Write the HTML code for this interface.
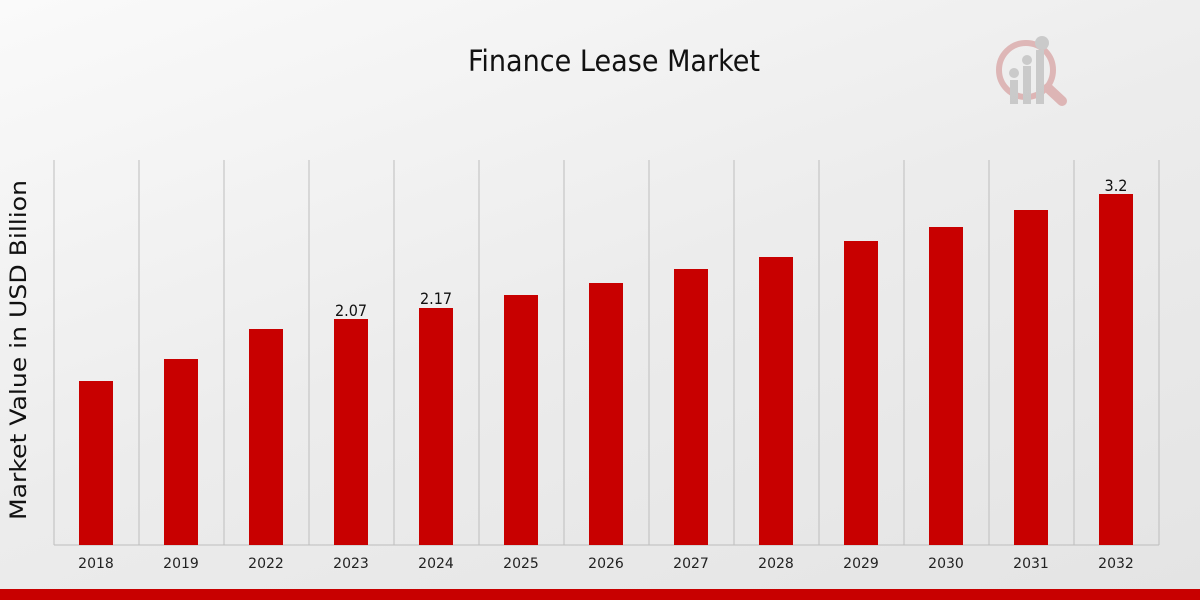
<!DOCTYPE html>
<html><head><meta charset="utf-8"><style>
html,body{margin:0;padding:0}
body{width:1200px;height:600px;overflow:hidden;background:linear-gradient(160deg,#fafafa 0%,#ececec 50%,#e4e4e4 100%);font-family:"DejaVu Sans",sans-serif;position:relative}
</style></head><body>
<svg width="1200" height="600" style="position:absolute;left:0;top:0" font-family="DejaVu Sans, sans-serif">
<text x="614" y="71" text-anchor="middle" font-family="DejaVu Sans Condensed, DejaVu Sans, sans-serif" font-stretch="condensed" font-size="29" fill="#111" textLength="292" lengthAdjust="spacingAndGlyphs">Finance Lease Market</text>
<g stroke="#bdbdbd" stroke-width="1">
<line x1="54" y1="160" x2="54" y2="545"/><line x1="139" y1="160" x2="139" y2="545"/><line x1="224" y1="160" x2="224" y2="545"/><line x1="309" y1="160" x2="309" y2="545"/><line x1="394" y1="160" x2="394" y2="545"/><line x1="479" y1="160" x2="479" y2="545"/><line x1="564" y1="160" x2="564" y2="545"/><line x1="649" y1="160" x2="649" y2="545"/><line x1="734" y1="160" x2="734" y2="545"/><line x1="819" y1="160" x2="819" y2="545"/><line x1="904" y1="160" x2="904" y2="545"/><line x1="989" y1="160" x2="989" y2="545"/><line x1="1074" y1="160" x2="1074" y2="545"/><line x1="1159" y1="160" x2="1159" y2="545"/>
<line x1="54" y1="545" x2="1159" y2="545"/>
</g>
<g fill="#c80000">
<rect x="79" y="381" width="34" height="164"/><rect x="164" y="359" width="34" height="186"/><rect x="249" y="329" width="34" height="216"/><rect x="334" y="319" width="34" height="226"/><rect x="419" y="308" width="34" height="237"/><rect x="504" y="295" width="34" height="250"/><rect x="589" y="283" width="34" height="262"/><rect x="674" y="269" width="34" height="276"/><rect x="759" y="257" width="34" height="288"/><rect x="844" y="241" width="34" height="304"/><rect x="929" y="227" width="34" height="318"/><rect x="1014" y="210" width="34" height="335"/><rect x="1099" y="194" width="34" height="351"/>
</g>
<g font-size="16" fill="#111" text-anchor="middle" font-family="DejaVu Sans Condensed, DejaVu Sans, sans-serif" font-stretch="condensed">
<text x="351" y="316">2.07</text><text x="436" y="304">2.17</text><text x="1116" y="191">3.2</text>
</g>
<g font-size="14" fill="#222" text-anchor="middle">
<text x="96" y="568">2018</text><text x="181" y="568">2019</text><text x="266" y="568">2022</text><text x="351" y="568">2023</text><text x="436" y="568">2024</text><text x="521" y="568">2025</text><text x="606" y="568">2026</text><text x="691" y="568">2027</text><text x="776" y="568">2028</text><text x="861" y="568">2029</text><text x="946" y="568">2030</text><text x="1031" y="568">2031</text><text x="1116" y="568">2032</text>
</g>
<text transform="translate(26,350) rotate(-90)" text-anchor="middle" font-size="22" fill="#111" textLength="340" lengthAdjust="spacingAndGlyphs">Market Value in USD Billion</text>
<rect x="0" y="589" width="1200" height="11" fill="#c80000"/>
<g opacity="0.35">
<circle cx="1026" cy="70" r="27" fill="none" stroke="#c05050" stroke-width="6"/>
<line x1="1048" y1="88" x2="1062" y2="101" stroke="#c05050" stroke-width="10" stroke-linecap="round"/>
<rect x="1010" y="80" width="8" height="24" fill="#888"/><rect x="1023" y="66" width="8" height="38" fill="#888"/><rect x="1036" y="50" width="8" height="54" fill="#888"/>
<circle cx="1014" cy="73" r="5" fill="#888"/><circle cx="1027" cy="60" r="5" fill="#888"/><circle cx="1042" cy="43" r="7" fill="#888"/>
</g>
</svg>
</body></html>
